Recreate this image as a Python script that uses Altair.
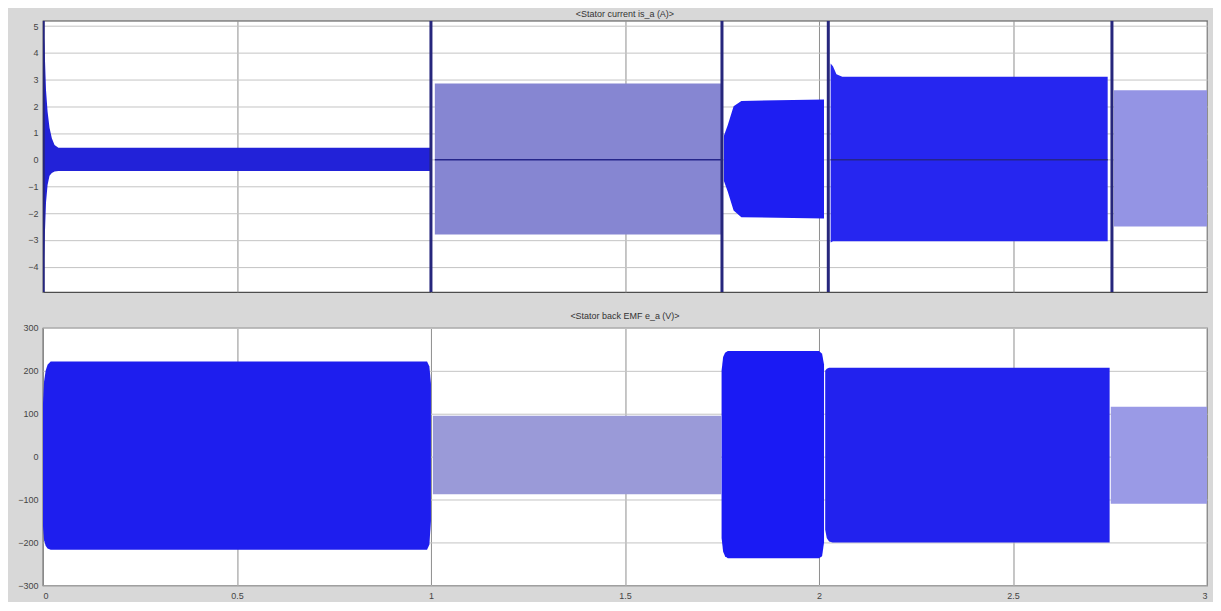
import altair as alt
import pandas as pd

# ---------------- data ----------------
# Stator current is_a (A): envelope of the waveform per segment
CUR_SEG = ["c0"] * 9 + ["c1"] * 2 + ["c2"] * 5 + ["c3"] * 5 + ["c4"] * 2
CUR_T = [0.0, 0.004, 0.008, 0.012, 0.017, 0.023, 0.03, 0.04, 0.999,
         1.01, 1.748,
         1.755, 1.765, 1.78, 1.80, 2.013,
         2.03, 2.036, 2.045, 2.06, 2.744,
         2.76, 3.0]
CUR_HI = [5.2, 4.3, 2.6, 1.8, 1.2, 0.8, 0.55, 0.45, 0.45,
          2.85, 2.85,
          0.9, 1.3, 2.0, 2.2, 2.25,
          3.6, 3.5, 3.2, 3.1, 3.1,
          2.6, 2.6]
CUR_LO = [-4.95, -3.2, -1.6, -0.95, -0.6, -0.5, -0.44, -0.42, -0.42,
          -2.8, -2.8,
          -0.8, -1.2, -1.9, -2.15, -2.2,
          -3.1, -3.05, -3.05, -3.05, -3.05,
          -2.5, -2.5]
CUR_COL = {"c0": "#2222d8", "c1": "#8686d2", "c2": "#1e1ef2", "c3": "#2626f0", "c4": "#9494e4"}

# switching transients (full-scale spikes) in the current
SPIKE_T = [0.001, 1.0, 1.75, 2.024, 2.755]
SPIKE_HI = [5.2, 5.2, 5.2, 5.2, 5.2]
SPIKE_LO = [-4.95, -4.95, -4.95, -4.95, -4.95]

# dark zero trace visible inside two current segments
ZERO_T0 = [1.01, 2.03]
ZERO_T1 = [1.748, 2.744]
ZERO_V = [0.0, 0.0]

# Stator back EMF e_a (V)
EMF_SEG = ["e0"] * 8 + ["e1"] * 2 + ["e2"] * 7 + ["e3"] * 5 + ["e4"] * 2
EMF_T = [0.0, 0.003, 0.007, 0.012, 0.02, 0.99, 0.996, 1.0,
         1.005, 1.748,
         1.749, 1.753, 1.758, 1.765, 2.0, 2.008, 2.013,
         2.016, 2.02, 2.026, 2.035, 2.749,
         2.752, 3.0]
EMF_HI = [120, 175, 200, 214, 222, 222, 210, 170,
          95, 95,
          200, 232, 242, 246, 246, 240, 215,
          200, 205, 207, 207, 207,
          116, 116]
EMF_LO = [-160, -195, -208, -214, -217, -217, -205, -150,
          -88, -88,
          -190, -222, -232, -237, -237, -232, -200,
          -170, -190, -198, -200, -200,
          -110, -110]
EMF_COL = {"e0": "#1e1eee", "e1": "#9a9ad8", "e2": "#1a1af4", "e3": "#2222ee", "e4": "#9a9ae6"}

X_TICKS = [0, 0.5, 1, 1.5, 2, 2.5, 3]
CUR_TICKS = [-4, -3, -2, -1, 0, 1, 2, 3, 4, 5]
EMF_TICKS = [-300, -200, -100, 0, 100, 200, 300]

TITLE_TOP = "<Stator current is_a (A)>"
TITLE_BOT = "<Stator back EMF e_a (V)>"

# ---------------- frames ----------------
cur_df = pd.DataFrame({"seg": CUR_SEG, "t": CUR_T, "hi": CUR_HI, "lo": CUR_LO})
cur_df["col"] = cur_df["seg"].map(CUR_COL)
emf_df = pd.DataFrame({"seg": EMF_SEG, "t": EMF_T, "hi": EMF_HI, "lo": EMF_LO})
emf_df["col"] = emf_df["seg"].map(EMF_COL)
spike_df = pd.DataFrame({"t": SPIKE_T, "hi": SPIKE_HI, "lo": SPIKE_LO})
zero_df = pd.DataFrame({"t0": ZERO_T0, "t1": ZERO_T1, "v": ZERO_V})

W = 1167
xscale = alt.Scale(domain=[0, 3], nice=False, zero=False)
grid_x_color = "#8e8e8e"
grid_y_color = "#c4c4c4"

x_top_axis = alt.Axis(values=X_TICKS, labels=False, ticks=False, domain=False,
                      grid=True, gridColor=grid_x_color, title=None)
x_bot_axis = alt.Axis(values=X_TICKS, format="~g", ticks=False, domain=False,
                      grid=True, gridColor=grid_x_color, title=None, labelPadding=6)

# ---------------- top panel ----------------
cur_scale = alt.Scale(domain=[-4.95, 5.2], nice=False, zero=False)
y_top_axis = alt.Axis(values=CUR_TICKS, ticks=False, domain=False, grid=True,
                      gridColor=grid_y_color, title=None, labelPadding=5,
                      labelOverlap=False)
cur_area = alt.Chart(cur_df).mark_area(opacity=1, interpolate="linear", clip=True).encode(
    x=alt.X("t:Q", scale=xscale, axis=x_top_axis),
    y=alt.Y("hi:Q", scale=cur_scale, axis=y_top_axis),
    y2="lo:Q",
    color=alt.Color("col:N", scale=None),
    detail="seg:N",
)
cur_zero = alt.Chart(zero_df).mark_rule(color="#25258a", strokeWidth=1.5).encode(
    x=alt.X("t0:Q", scale=xscale, axis=x_top_axis), x2="t1:Q",
    y=alt.Y("v:Q", scale=cur_scale, axis=y_top_axis)
)
cur_spike = alt.Chart(spike_df).mark_rule(color="#26267c", strokeWidth=3, clip=True).encode(
    x=alt.X("t:Q", scale=xscale, axis=x_top_axis),
    y=alt.Y("lo:Q", scale=cur_scale, axis=y_top_axis), y2="hi:Q"
)
top = alt.layer(cur_area, cur_zero, cur_spike).properties(
    width=W, height=272,
    title=alt.TitleParams(TITLE_TOP, fontSize=9, fontWeight="normal", color="#333333",
                          offset=2, anchor="middle"),
)

# ---------------- bottom panel ----------------
emf_scale = alt.Scale(domain=[-300, 300], nice=False, zero=False)
emf_area = alt.Chart(emf_df).mark_area(opacity=1, interpolate="linear", clip=True).encode(
    x=alt.X("t:Q", scale=xscale, axis=x_bot_axis),
    y=alt.Y("hi:Q", scale=emf_scale,
            axis=alt.Axis(values=EMF_TICKS, ticks=False, domain=False, grid=True,
                          gridColor=grid_y_color, title=None, labelPadding=5,
                          labelOverlap=False)),
    y2="lo:Q",
    color=alt.Color("col:N", scale=None),
    detail="seg:N",
)
bottom = alt.layer(emf_area).properties(
    width=W, height=258,
    title=alt.TitleParams(TITLE_BOT, fontSize=9, fontWeight="normal", color="#333333",
                          offset=3, anchor="middle"),
)

chart = alt.vconcat(top, bottom, spacing=18).properties(
    padding={"left": 9, "top": 0, "right": 5, "bottom": 0},
    background="#d8d8d8",
).configure_view(
    fill="white", stroke="#4d4d4d", strokeWidth=1.2
).configure_axis(
    labelFontSize=9, labelColor="#444444", labelFont="Liberation Sans",
    gridWidth=1,
).configure_title(font="Liberation Sans")

chart.save("out.html", embed_options={"renderer": "svg", "actions": False})
